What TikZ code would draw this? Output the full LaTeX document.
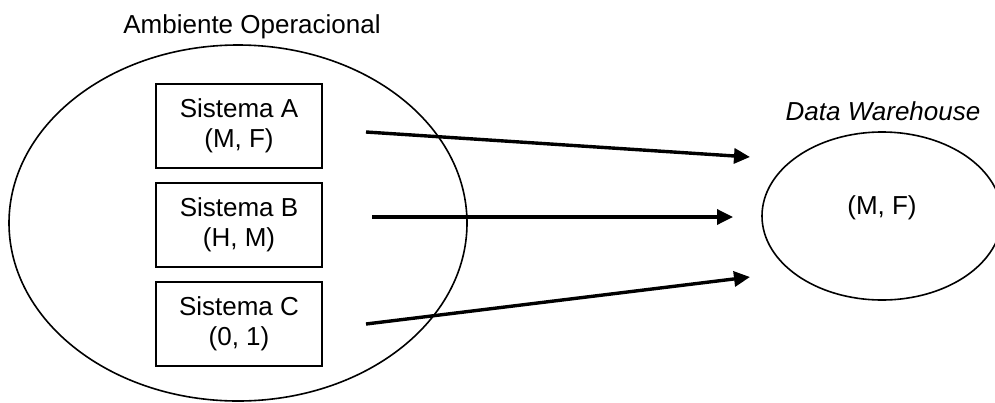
\documentclass[tikz,border=0pt]{standalone}
\usepackage{fontspec}
\setmainfont{Liberation Sans}
\usepackage{tikz}
\usetikzlibrary{shapes.geometric, arrows.meta, positioning}

\begin{document}
\begin{tikzpicture}[
    x=0.5pt, y=-0.5pt,
    font=\fontsize{13}{15}\selectfont,
    node distance=6.5pt,
    sistema/.style={rectangle, draw, line width=1pt, minimum width=83pt, minimum height=42pt, align=center, inner sep=0pt},
    ambiente/.style={ellipse, draw, line width=0.8pt, inner sep=0pt},
    seta/.style={-{Triangle[length=8pt, width=7.5pt]}, line width=1.7pt}
]
\useasboundingbox (0,0) rectangle (995,402);

% Nodes
\node[ambiente, minimum width=229pt, minimum height=178pt] (amb) at (238,223) {};
\node (ambTitulo) at (252,27) {Ambiente Operacional};

\node[sistema] (sisA) at (239,126) {Sistema A\\(M, F)};
\node[sistema, below=of sisA] (sisB) {Sistema B\\(H, M)};
\node[sistema, below=of sisB] (sisC) {Sistema C\\(0, 1)};

\node[ambiente, minimum width=120pt, minimum height=84pt,
      label={[yshift=4pt]center:(M, F)}] (dw) at (882,216) {};
\node[font=\fontsize{13}{15}\selectfont\itshape] (dwTitulo) at (883,111) {Data Warehouse};

% Arrow ends
\coordinate (aIni) at (366,132);
\coordinate (aFim) at (750,157);
\coordinate (bIni) at (372,217);
\coordinate (bFim) at (733,217);
\coordinate (cIni) at (366,324);
\coordinate (cFim) at (750,277);

% Arrows
\draw[seta] (aIni) -- (aFim);
\draw[seta] (bIni) -- (bFim);
\draw[seta] (cIni) -- (cFim);

\end{tikzpicture}
\end{document}
